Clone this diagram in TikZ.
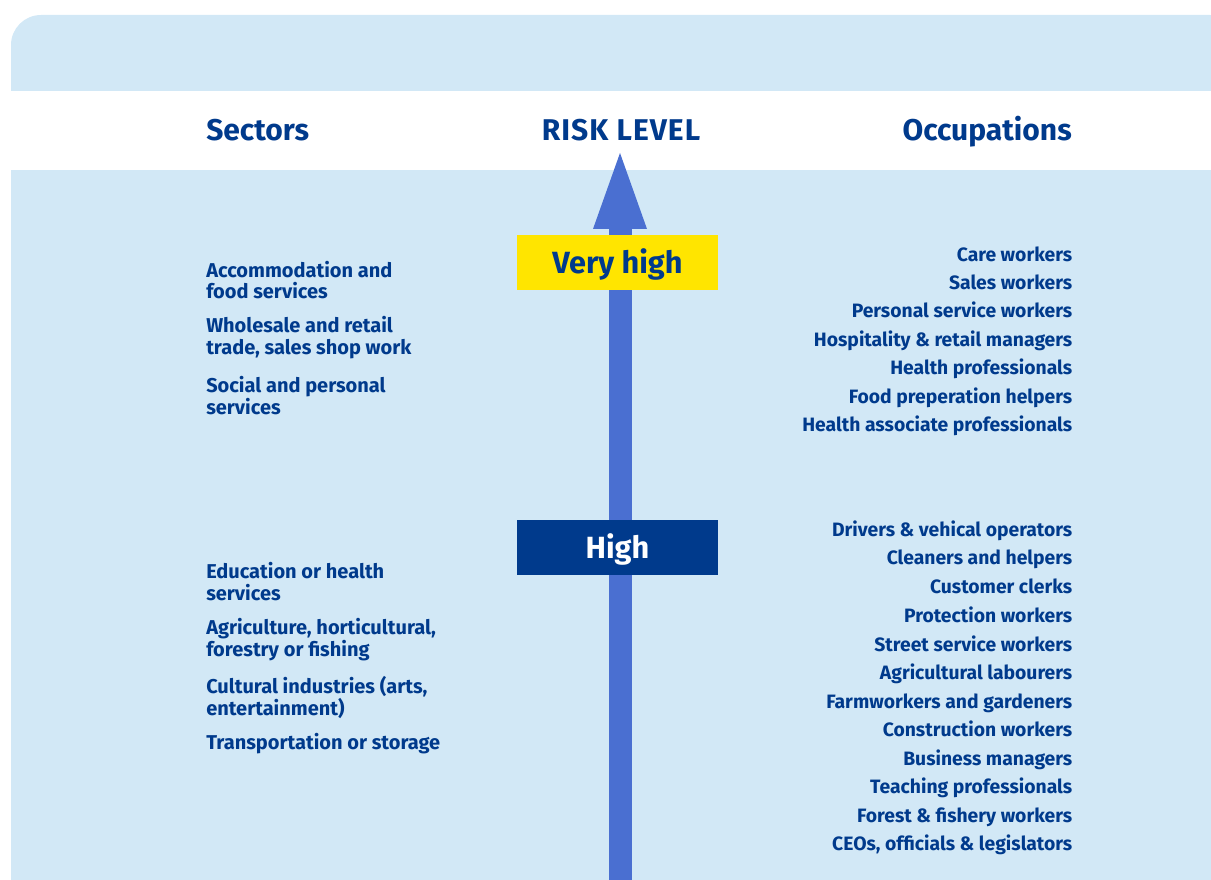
\documentclass[tikz,border=0pt]{standalone}
\usepackage{fontspec}
\setmainfont{Fira Sans}
\usepackage{tikz}
\usetikzlibrary{arrows.meta, positioning, calc}
\definecolor{panel}{HTML}{D2E8F6}
\definecolor{navy}{HTML}{003A8C}
\definecolor{riskarrow}{HTML}{4A6FD1}
\definecolor{warn}{HTML}{FFE500}
\tikzset{
  sectxt/.style={font=\bfseries\fontsize{15}{16}\selectfont, text=navy, inner sep=0pt},
  occtxt/.style={font=\bfseries\fontsize{14.5}{16}\selectfont, text=navy, inner sep=0pt},
  headtxt/.style={font=\bfseries\fontsize{22.5}{24}\selectfont, text=navy, inner sep=0pt},
  levelbox/.style={minimum width=150.75pt, minimum height=41.25pt, inner sep=0pt,
    text height=16pt, text depth=0pt,
    font=\bfseries\fontsize{23}{26}\selectfont}
}

\begin{document}
\begin{tikzpicture}[x=0.75pt, y=-0.75pt]
  \useasboundingbox (0,0) rectangle (1211,880);
  % Panel and header band
  \fill[panel, rounded corners=22.5pt] (11,15) rectangle (1240,910);
  \fill[white] (11,91) rectangle (1211,170);
  \node[headtxt, anchor=west] (sectors) at (206,130) {Sectors};
  \node[headtxt] (risk) at (621,130) {\addfontfeature{LetterSpace=3.5}RISK LEVEL};
  \node[headtxt, anchor=east] (occup) at (1072,132) {Occupations};
  % Risk arrow
  \fill[riskarrow] (609,228) rectangle (632,880);
  \fill[riskarrow] (593,229) -- (647,229) -- (620,153) -- cycle;
  % Levels
  \node[levelbox, fill=warn, text=navy] (veryhigh) at (617.5,262.5) {Very high};
  \node[levelbox, fill=navy, text=white] (high) at (617.5,547.5) {High};
  % Sectors
  \foreach \y/\t [count=\i] in {
      280/{Accommodation and\\food services},
      337.5/{Wholesale and retail\\trade, sales shop work},
      395.5/{Social and personal\\services},
      581.5/{Education or health\\services},
      639.5/{Agriculture, horticultural,\\forestry or fishing},
      697.5/{Cultural industries (arts,\\entertainment)},
      744/{Transportation or storage}}
    \node[sectxt, anchor=west, align=left] (sec\i) at (206,\y) {\t};
  % Occupations (placed by baseline)
  \foreach \y/\t [count=\i] in {
      262/Care workers, 290/Sales workers, 318/Personal service workers,
      347/Hospitality \& retail managers, 375/Health professionals,
      404/Food preperation helpers, 432/Health associate professionals,
      537/Drivers \& vehical operators, 565/Cleaners and helpers,
      594/Customer clerks, 622/Protection workers, 651/Street service workers,
      679/Agricultural labourers, 708/Farmworkers and gardeners,
      736/Construction workers, 765/Business managers,
      793/Teaching professionals, 822/Forest \& fishery workers,
      850/{CEOs, officials \& legislators}}
    \node[occtxt, anchor=base east] (occ\i) at (1072.5,\y) {\t};
\end{tikzpicture}
\end{document}
